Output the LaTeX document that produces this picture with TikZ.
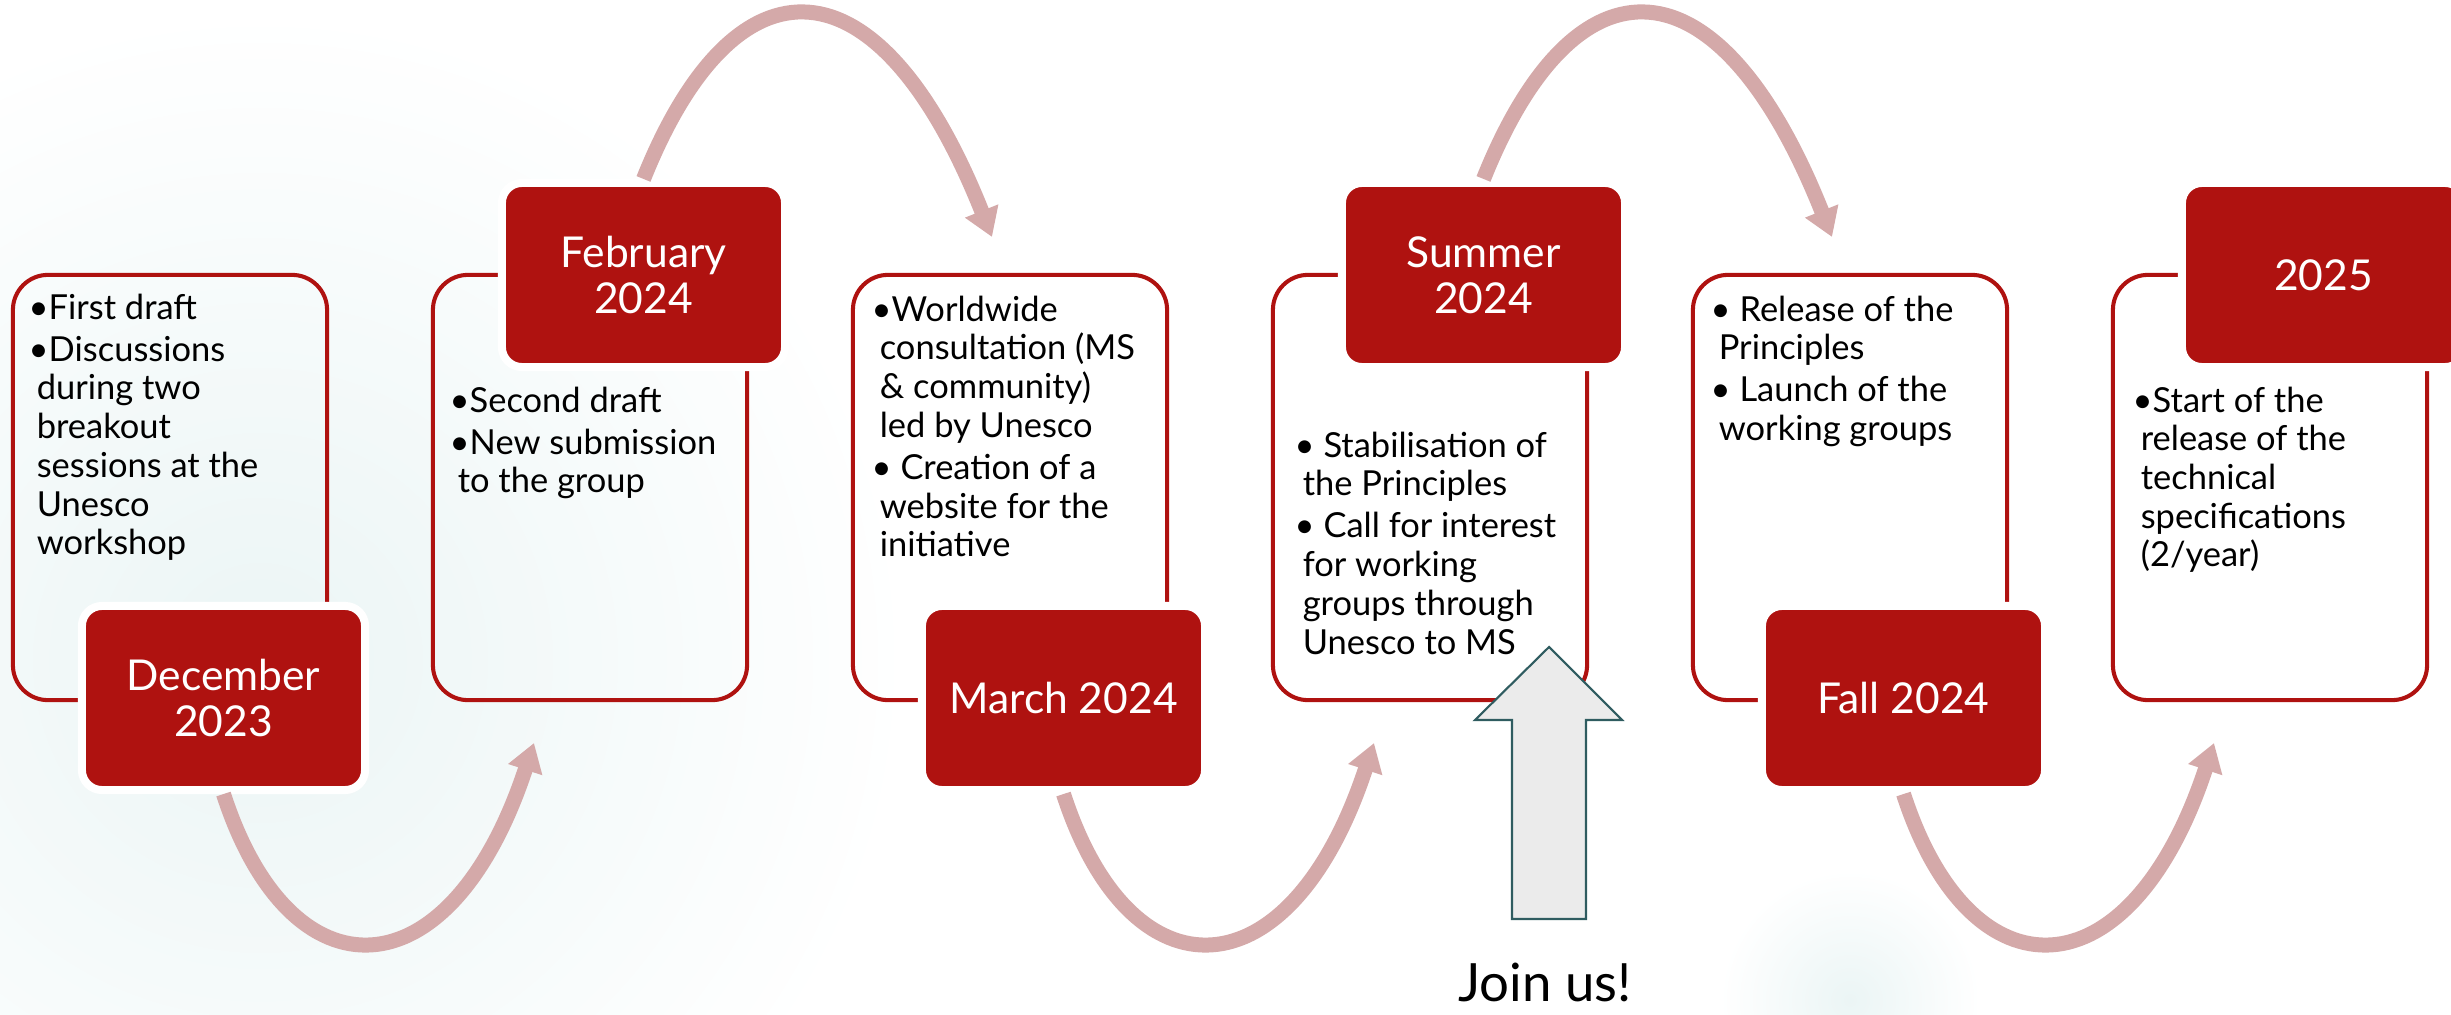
\documentclass[tikz,border=0pt]{standalone}
\usepackage{fontspec}
\setmainfont{Lato}
\usetikzlibrary{arrows.meta}
\definecolor{datered}{RGB}{175,18,16}
\definecolor{arcpink}{RGB}{212,169,169}
\definecolor{joinfill}{RGB}{235,235,235}
\definecolor{joinline}{RGB}{47,92,96}
\definecolor{glow}{RGB}{235,245,245}
\tikzset{
  stagebox/.style={draw=datered, line width=1.15pt, rounded corners=0.35cm,
    minimum width=3.14cm, minimum height=4.25cm},
  datebox/.style={fill=datered, draw=white, line width=0.08cm, rounded corners=0.2cm,
    minimum width=2.83cm, minimum height=1.84cm, inner sep=0pt, align=center,
    text=white, font=\fontsize{12.1}{13.1}\selectfont},
  itemtext/.style={anchor=north west, align=left, inner sep=0pt,
    font=\fontsize{9.8}{11}\selectfont},
  flowarc/.style={draw=arcpink, line width=0.15cm,
    -{Triangle[length=0.28cm, width=0.34cm]}}
}
\newcommand{\cont}{\hspace*{2.3pt}}
\begin{document}
\begin{tikzpicture}[x=0.01cm, y=-0.01cm]
\useasboundingbox (0,0) rectangle (2451,1015);
\clip (0,0) rectangle (2451,1015);
% soft background
\shade [inner color=glow, outer color=white] (260,660) circle (650);
\shade [inner color=glow, outer color=white] (1850,1000) circle (130);
% stage boxes
\node [stagebox] (s1) at (170,487.5) {};
\node [stagebox] (s2) at (590,487.5) {};
\node [stagebox] (s3) at (1010,487.5) {};
\node [stagebox] (s4) at (1430,487.5) {};
\node [stagebox] (s5) at (1850,487.5) {};
\node [stagebox] (s6) at (2270,487.5) {};
% dates
\node [datebox] (dec) at (223.5,698) {December\\2023};
\node [datebox] (feb) at (643.5,275) {February\\2024};
\node [datebox] (mar) at (1063.5,698) {March 2024};
\node [datebox] (sum) at (1483.5,275) {Summer\\2024};
\node [datebox] (fall) at (1903.5,698) {Fall 2024};
\node [datebox] (y25) at (2323.5,275) {2025};
% items
\node [itemtext] (t1) at (28,293) {•First draft\\[1pt]
  •Discussions\\ \cont during two\\ \cont breakout\\ \cont sessions at the\\
  \cont Unesco\\ \cont workshop};
\node [itemtext] (t2) at (449,386) {•Second draft\\[1pt]
  •New submission\\ \cont to the group};
\node [itemtext] (t3) at (871,295) {•Worldwide\\ \cont consultation (MS\\
  \cont \& community)\\ \cont led by Unesco\\[1pt]
  • Creation of a\\ \cont website for the\\ \cont initiative};
\node [itemtext] (t4) at (1294,431) {• Stabilisation of\\ \cont the Principles\\[1pt]
  • Call for interest\\ \cont for working\\ \cont groups through\\ \cont Unesco to MS};
\node [itemtext] (t5) at (1710,295) {• Release of the\\ \cont Principles\\[1pt]
  • Launch of the\\ \cont working groups};
\node [itemtext] (t6) at (2132,386) {•Start of the\\ \cont release of the\\
  \cont technical\\ \cont specifications\\ \cont (2/year)};
% arcs between the dates
\coordinate (e1) at (534,743);
\coordinate (e2) at (992,237);
\coordinate (e3) at (1374,743);
\coordinate (e4) at (1832,237);
\coordinate (e5) at (2214,743);
\draw [flowarc] (dec.south) .. controls +(67,207) and +(-84,255) .. (e1);
\draw [flowarc] (feb.north) .. controls +(92,-230) and +(-113,-284) .. (e2);
\draw [flowarc] (mar.south) .. controls +(67,207) and +(-84,255) .. (e3);
\draw [flowarc] (sum.north) .. controls +(92,-230) and +(-113,-284) .. (e4);
\draw [flowarc] (fall.south) .. controls +(67,207) and +(-84,255) .. (e5);
% join arrow
\draw [fill=joinfill, draw=joinline, line width=0.6pt] (1549,647) -- (1622,720)
  -- (1586,720) -- (1586,919) -- (1512,919) -- (1512,720) -- (1475,720) -- cycle;
\node [anchor=base, font=\fontsize{15}{18}\selectfont] (join) at (1545,1001) {Join us!};
\end{tikzpicture}
\end{document}
